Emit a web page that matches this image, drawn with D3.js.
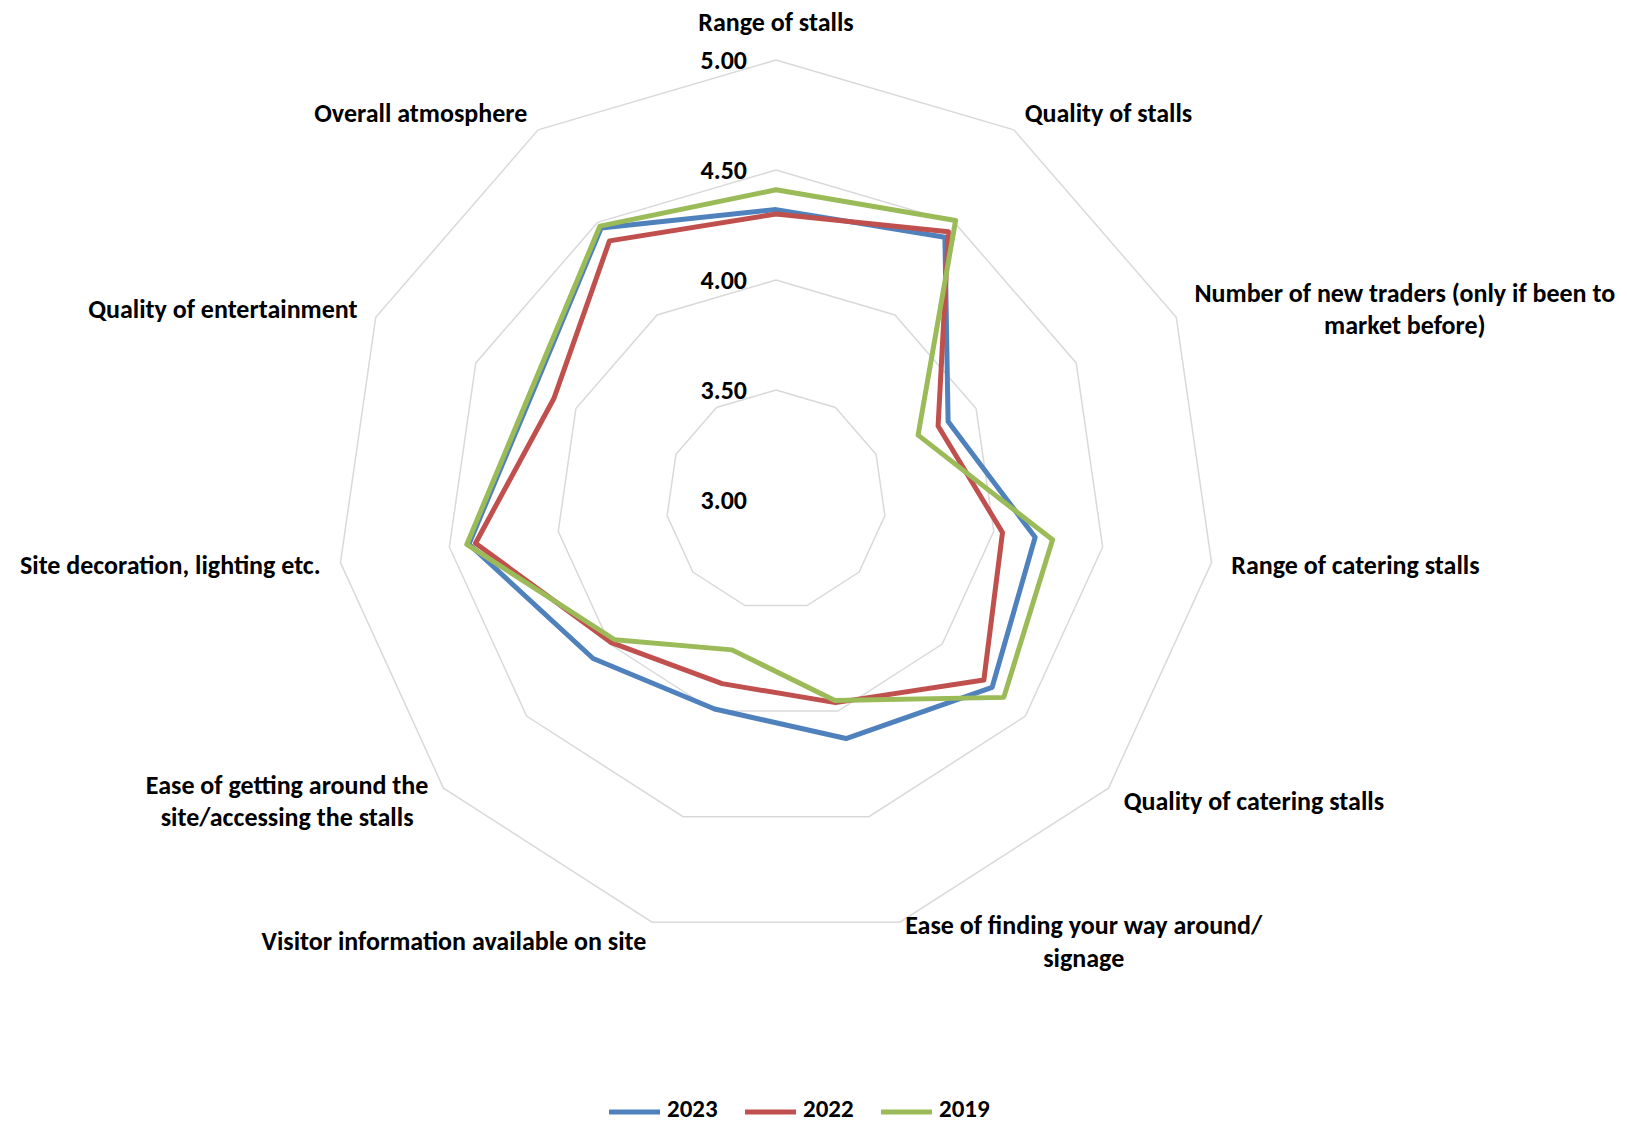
<!DOCTYPE html>
<html>
<head>
<meta charset="utf-8">
<script src="https://cdn.jsdelivr.net/npm/d3@7/dist/d3.min.js"></script>
<style>
  html, body { margin: 0; padding: 0; background: #ffffff; }
  svg { display: block; }
  text { font-family: Calibri, Carlito, Lato, "Noto Sans", sans-serif; font-weight: 700; fill: #000; }
</style>
</head>
<body>
<svg id="chart" width="1627" height="1124"></svg>
<script>
// Satisfaction scores per aspect of the market (1–5 scale, axis shown from 3 to 5)
const categories = [
  "Range of stalls",
  "Quality of stalls",
  "Number of new traders (only if been to\nmarket before)",
  "Range of catering stalls",
  "Quality of catering stalls",
  "Ease of finding your way around/\nsignage",
  "Visitor information available on site",
  "Ease of getting around the\nsite/accessing the stalls",
  "Site decoration, lighting etc.",
  "Quality of entertainment",
  "Overall atmosphere"
];
const values2023 = [4.32, 4.42, 3.86, 4.19, 4.30, 4.13, 3.99, 4.10, 4.41, 4.21, 4.47];
const values2022 = [4.30, 4.45, 3.81, 4.04, 4.25, 3.96, 3.87, 3.99, 4.38, 4.11, 4.40];
const values2019 = [4.41, 4.51, 3.71, 4.27, 4.37, 3.95, 3.71, 3.97, 4.42, 4.22, 4.48];
const seriesNames = ["2023", "2022", "2019"];
const seriesColors = ["#4f81bd", "#c0504d", "#9bbb59"];
const tickValues = [3.00, 3.50, 4.00, 4.50, 5.00];
const gridLevels = [3.50, 4.00, 4.50, 5.00];

const series = [values2023, values2022, values2019];

const svg = d3.select("#chart");
const cx = 776, cy = 500, R = 440;
const n = categories.length;
const FONT = 26;
const LEGEND_FONT = 25;

const rScale = d3.scaleLinear().domain([3, 5]).range([0, R]);
const angleOf = i => i * 2 * Math.PI / n;

const g = svg.append("g").attr("transform", `translate(${cx},${cy})`);

const radial = d3.lineRadial()
  .angle((d, i) => angleOf(i))
  .radius(d => rScale(d))
  .curve(d3.curveLinearClosed);

// Concentric grid polygons
g.append("g").selectAll("path")
  .data(gridLevels)
  .join("path")
  .attr("d", lvl => radial(d3.range(n).map(() => lvl)))
  .attr("fill", "none")
  .attr("stroke", "#d9d9d9")
  .attr("stroke-width", 1.5);

// Value axis labels running up the top spoke
const yScale = d3.scaleLinear().domain([3, 5]).range([0, -R]);
const axis = g.append("g")
  .call(d3.axisLeft(yScale).tickValues(tickValues).tickSize(0).tickPadding(29).tickFormat(d3.format(".2f")));
axis.select(".domain").remove();
axis.selectAll("text")
  .attr("font-size", FONT)
  .attr("font-family", null)
  .style("font-weight", 700);

// Series outlines: 2023 first, 2019 drawn on top
g.append("g").selectAll("path")
  .data(series)
  .join("path")
  .attr("d", d => radial(d))
  .attr("fill", "none")
  .attr("stroke", (d, i) => seriesColors[i])
  .attr("stroke-width", 5)
  .attr("stroke-linejoin", "round");

// Category labels around the outer ring
const labelGap = 20, lineH = 32.5;
categories.forEach((name, i) => {
  const a = angleOf(i);
  const s = Math.sin(a), c = Math.cos(a);
  const x = (R + labelGap) * s;
  let y = -(R + labelGap) * c;
  const lines = name.split("\n");
  const t = g.append("text").attr("font-size", FONT).attr("text-anchor", "middle");
  const spans = lines.map((ln, j) =>
    t.append("tspan").text(ln).attr("dominant-baseline", "central"));
  const maxW = d3.max(spans, sp => sp.node().getComputedTextLength());
  let bx;
  if (Math.abs(s) < 0.01) { bx = x; y -= 18; }
  else if (s > 0) bx = x + maxW / 2;
  else bx = x - maxW / 2;
  const y0 = y - (lines.length - 1) * lineH / 2;
  spans.forEach((sp, j) => sp.attr("x", bx).attr("y", y0 + j * lineH));
});

// Legend along the bottom
const legend = svg.append("g").attr("transform", "translate(609,1108)");
const legendStep = 136;
seriesNames.forEach((nm, i) => {
  const lg = legend.append("g").attr("transform", `translate(${i * legendStep},0)`);
  lg.append("line").attr("x1", 0).attr("x2", 51).attr("y1", 4).attr("y2", 4)
    .attr("stroke", seriesColors[i]).attr("stroke-width", 5);
  lg.append("text").attr("x", 58).attr("y", 0).attr("dominant-baseline", "central")
    .attr("font-size", LEGEND_FONT).text(nm);
});
</script>
</body>
</html>
